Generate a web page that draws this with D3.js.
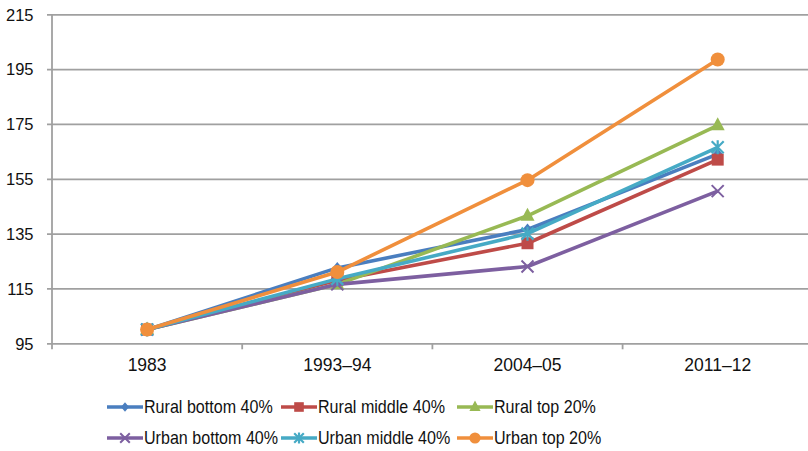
<!DOCTYPE html>
<html><head><meta charset="utf-8">
<script src="https://cdn.jsdelivr.net/npm/d3@7"></script>
<style>body{margin:0;background:#fff}svg{display:block}text{font-family:"Liberation Sans",Arial,Helvetica,sans-serif;fill:#111}</style>
</head><body><svg id="c" width="808" height="451"></svg>
<script>
const categories = ["1983","1993\u201394","2004\u201305","2011\u201312"];
const yTicks = [95,115,135,155,175,195,215];
const seriesNames = ["Rural bottom 40%","Rural middle 40%","Rural top 20%","Urban bottom 40%","Urban middle 40%","Urban top 20%"];
const ruralBottom = [100,122.5,136.5,164];
const ruralMiddle = [100,118,131.5,162];
const ruralTop = [100,116.5,141.5,174.5];
const urbanBottom = [100,116.5,123,150.5];
const urbanMiddle = [100,118.5,135,166.5];
const urbanTop = [100,121,154.5,198.5];
const colors = ["#4a7ebf","#be4b48","#98b954","#7d5fa0","#46aac5","#f08f3c"];
const markers = ["diamond","square","triangle","x","asterisk","circle"];
const values = [ruralBottom,ruralMiddle,ruralTop,urbanBottom,urbanMiddle,urbanTop];

const svg = d3.select("#c");
const x = d3.scaleBand().domain(categories).range([52, 812.8]).padding(0);
const y = d3.scaleLinear().domain([95,215]).range([343.3,14.3]);
const cx = c => x(c) + x.bandwidth()/2;

// gridlines + y axis
const yAxis = d3.axisLeft(y).tickValues(yTicks).tickSize(-(812.8-47)).tickPadding(13.5);
const gy = svg.append("g").attr("transform","translate(47,0)").call(yAxis);
gy.select(".domain").remove();
gy.selectAll(".tick line").attr("stroke","#a0a0a0").attr("stroke-width",1.8);
gy.selectAll(".tick text").attr("font-size",16.5).attr("dy","0.35em");

// y axis line
svg.append("line").attr("x1",52).attr("x2",52).attr("y1",y(215)).attr("y2",y(95)+6)
  .attr("stroke","#a0a0a0").attr("stroke-width",1.8);

// x axis
const xAxis = d3.axisBottom(x).tickSize(0).tickPadding(15.5);
const gx = svg.append("g").attr("transform",`translate(0,${y(95)})`).call(xAxis);
gx.select(".domain").remove();
gx.selectAll(".tick text").attr("font-size",17.5);
// category boundary ticks
svg.append("g").selectAll("line").data(categories.slice(1).map(c=>x(c)))
  .join("line").attr("x1",d=>d).attr("x2",d=>d).attr("y1",y(95)).attr("y2",y(95)+6)
  .attr("stroke","#a0a0a0").attr("stroke-width",1.8);

function drawMarker(g, type, color, px, py, s) {
  s = s || 1;
  if (type==="diamond") g.append("path").attr("d",`M${px},${py-6*s}L${px+5*s},${py}L${px},${py+6*s}L${px-5*s},${py}Z`).attr("fill",color);
  else if (type==="square") g.append("rect").attr("x",px-6*s).attr("y",py-6*s).attr("width",12*s).attr("height",12*s).attr("fill",color);
  else if (type==="triangle") g.append("path").attr("d",`M${px},${py-8*s}L${px+7*s},${py+5*s}L${px-7*s},${py+5*s}Z`).attr("fill",color);
  else if (type==="x") g.append("path").attr("d",`M${px-6*s},${py-6*s}L${px+6*s},${py+6*s}M${px-6*s},${py+6*s}L${px+6*s},${py-6*s}`).attr("stroke",color).attr("stroke-width",2);
  else if (type==="asterisk") g.append("path").attr("d",`M${px-6*s},${py-6*s}L${px+6*s},${py+6*s}M${px-6*s},${py+6*s}L${px+6*s},${py-6*s}M${px},${py-7*s}L${px},${py+7*s}`).attr("stroke",color).attr("stroke-width",2.2);
  else if (type==="circle") g.append("circle").attr("cx",px).attr("cy",py).attr("r",7*s).attr("fill",color);
}

const line = d3.line().x((d,i)=>cx(categories[i])).y(d=>y(d));
values.forEach((vals,k)=>{
  const g = svg.append("g");
  g.append("path").datum(vals).attr("d",line).attr("fill","none").attr("stroke",colors[k]).attr("stroke-width",3.6).attr("stroke-linejoin","round");
  vals.forEach((v,i)=>drawMarker(g, markers[k], colors[k], cx(categories[i]), y(v)));
});

// legend
const legX = [107,281,457];
const legY = [407,438];
seriesNames.forEach((name,k)=>{
  const col = k%3, row = Math.floor(k/3);
  const lx = legX[col], ly = legY[row];
  const g = svg.append("g");
  g.append("line").attr("x1",lx).attr("x2",lx+36).attr("y1",ly).attr("y2",ly).attr("stroke",colors[k]).attr("stroke-width",3.6);
  drawMarker(g, markers[k], colors[k], lx+18, ly, 0.8);
  g.append("text").attr("transform",`translate(${lx+37},${ly}) scale(0.92,1)`).attr("dy","0.35em").attr("font-size",17.5).text(name);
});
</script></body></html>
